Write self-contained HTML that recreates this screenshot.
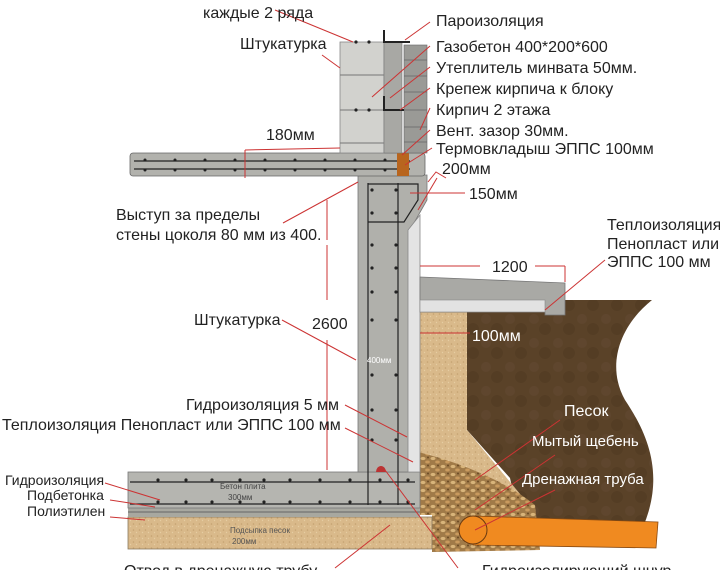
<!DOCTYPE html>
<html><head><meta charset="utf-8"><style>
html,body{margin:0;padding:0;background:#fff;}
svg{display:block;}
text{font-family:"Liberation Sans","Noto Sans CJK SC",sans-serif;}
.w{fill:#fff;}
.d{fill:#222;}
</style></head><body>
<svg width="720" height="570" viewBox="0 0 720 570" xmlns="http://www.w3.org/2000/svg">
<defs>
<pattern id="sand" width="6" height="6" patternUnits="userSpaceOnUse"><rect width="6" height="6" fill="#d9b98a"/><circle cx="1.5" cy="2" r="0.8" fill="#c4a170"/><circle cx="4.5" cy="4.5" r="0.7" fill="#e6cda2"/></pattern>
<pattern id="grav" width="10" height="8" patternUnits="userSpaceOnUse"><rect width="10" height="8" fill="#a07a48"/><ellipse cx="3" cy="2.5" rx="2.5" ry="1.6" fill="#d8b47a"/><ellipse cx="7.5" cy="6" rx="2.3" ry="1.5" fill="#c99a5e"/><circle cx="8" cy="1.5" r="1" fill="#6b4a25"/></pattern>
<pattern id="soil" width="24" height="24" patternUnits="userSpaceOnUse"><rect width="24" height="24" fill="#5a4228"/><circle cx="6" cy="7" r="5" fill="#614830" opacity="0.7"/><circle cx="17" cy="17" r="6" fill="#523b22" opacity="0.7"/></pattern>
</defs>

<path d="M467,312 L565,300 L652,300 C615,330 608,370 625,400 C645,430 665,470 645,522 L520,525 L510,478 L467,430 Z" fill="url(#soil)"/>
<path d="M420,305 L467,305 L467,430 L525,500 L420,455 Z" fill="url(#sand)"/>
<path d="M418,452 C470,465 510,485 535,505 L540,550 L432,552 L432,515 L418,515 Z" fill="url(#grav)"/>
<rect x="128" y="517" width="304" height="32" fill="url(#sand)" stroke="#8a7a60" stroke-width="0.8"/>
<text x="230" y="533" font-size="8" style="fill:#555">Подсыпка песок</text>
<text x="232" y="544" font-size="8" style="fill:#555">200мм</text>
<rect x="128" y="508" width="292" height="9" fill="#a8a8a0"/>
<line x1="128" y1="512" x2="420" y2="512" stroke="#666" stroke-width="1"/>
<rect x="128" y="472" width="292" height="36" fill="#b5b5b0" stroke="#777" stroke-width="0.8"/>
<line x1="130" y1="482" x2="415" y2="482" stroke="#222" stroke-width="1.3"/>
<line x1="130" y1="504" x2="415" y2="504" stroke="#222" stroke-width="1.3"/>
<g fill="#222"><circle cx="158" cy="480" r="1.6"/><circle cx="186" cy="480" r="1.6"/><circle cx="212" cy="480" r="1.6"/><circle cx="240" cy="480" r="1.6"/><circle cx="264" cy="480" r="1.6"/><circle cx="290" cy="480" r="1.6"/><circle cx="320" cy="480" r="1.6"/><circle cx="350" cy="480" r="1.6"/><circle cx="380" cy="480" r="1.6"/><circle cx="408" cy="480" r="1.6"/>
<circle cx="158" cy="502" r="1.6"/><circle cx="186" cy="502" r="1.6"/><circle cx="212" cy="502" r="1.6"/><circle cx="240" cy="502" r="1.6"/><circle cx="264" cy="502" r="1.6"/><circle cx="290" cy="502" r="1.6"/><circle cx="320" cy="502" r="1.6"/><circle cx="350" cy="502" r="1.6"/><circle cx="380" cy="502" r="1.6"/><circle cx="408" cy="502" r="1.6"/></g>
<text x="220" y="489" font-size="8" style="fill:#444">Бетон плита</text>
<text x="228" y="500" font-size="8" style="fill:#444">300мм</text>

<path d="M358,175 L427,175 L427,200 L410,230 L410,472 L358,472 Z" fill="#b0b0ab" stroke="#777" stroke-width="0.8"/>
<path d="M408,230 L420,215 L420,472 L408,472 Z" fill="#e4e4e4" stroke="#888" stroke-width="0.8"/>
<g stroke="#222" stroke-width="1.2" fill="none">
<line x1="368" y1="183" x2="368" y2="505"/><line x1="398" y1="183" x2="398" y2="505"/>
<path d="M368,184 L418,184 L418,200 L404,222 L368,222"/>
</g>
<g fill="#222"><circle cx="372" cy="190" r="1.6"/><circle cx="396" cy="190" r="1.6"/><circle cx="372" cy="213" r="1.6"/><circle cx="396" cy="213" r="1.6"/><circle cx="372" cy="245" r="1.6"/><circle cx="396" cy="245" r="1.6"/><circle cx="372" cy="268" r="1.6"/><circle cx="396" cy="268" r="1.6"/><circle cx="372" cy="292" r="1.6"/><circle cx="396" cy="292" r="1.6"/><circle cx="372" cy="320" r="1.6"/><circle cx="396" cy="320" r="1.6"/><circle cx="372" cy="375" r="1.6"/><circle cx="396" cy="375" r="1.6"/><circle cx="372" cy="410" r="1.6"/><circle cx="396" cy="410" r="1.6"/><circle cx="372" cy="440" r="1.6"/><circle cx="396" cy="440" r="1.6"/></g>
<text x="367" y="363" font-size="8" class="w">400мм</text>
<path d="M376,472 a5,6 0 0 1 10,0 Z" fill="#b33"/>

<path d="M420,277 L565,283 L565,315 L545,315 L545,312 L420,312 Z" fill="#a9a9a5" stroke="#777" stroke-width="0.8"/>
<rect x="420" y="300" width="125" height="12" fill="#e2e2e2" stroke="#888" stroke-width="0.6"/>

<path d="M473,516 L658,522 L656,548 L473,545 Z" fill="#f08a20" stroke="#8a4a10" stroke-width="0.8"/>
<circle cx="473" cy="530" r="14" fill="#f08a20" stroke="#6a3a10" stroke-width="1"/>

<rect x="130" y="153" width="295" height="23" rx="3" fill="#b2b2ad" stroke="#666" stroke-width="0.8"/>
<line x1="134" y1="161" x2="410" y2="161" stroke="#222" stroke-width="1.2"/>
<line x1="134" y1="169" x2="410" y2="169" stroke="#222" stroke-width="1.2"/>
<rect x="397" y="153" width="12" height="23" fill="#b8651e"/>
<g fill="#222"><circle cx="145" cy="160" r="1.5"/><circle cx="175" cy="160" r="1.5"/><circle cx="205" cy="160" r="1.5"/><circle cx="235" cy="160" r="1.5"/><circle cx="265" cy="160" r="1.5"/><circle cx="295" cy="160" r="1.5"/><circle cx="325" cy="160" r="1.5"/><circle cx="355" cy="160" r="1.5"/><circle cx="385" cy="160" r="1.5"/>
<circle cx="145" cy="170" r="1.5"/><circle cx="175" cy="170" r="1.5"/><circle cx="205" cy="170" r="1.5"/><circle cx="235" cy="170" r="1.5"/><circle cx="265" cy="170" r="1.5"/><circle cx="295" cy="170" r="1.5"/><circle cx="325" cy="170" r="1.5"/><circle cx="355" cy="170" r="1.5"/><circle cx="385" cy="170" r="1.5"/></g>

<rect x="340" y="42" width="44" height="111" fill="#d2d2ce" stroke="#888" stroke-width="0.8"/>
<g stroke="#777" stroke-width="1"><line x1="340" y1="75" x2="384" y2="75"/><line x1="340" y1="110" x2="384" y2="110"/><line x1="340" y1="143" x2="384" y2="143"/></g>
<rect x="384" y="42" width="18" height="111" fill="#a8a8a4" stroke="#777" stroke-width="0.6"/>
<rect x="404" y="45" width="23" height="108" fill="#9a9a96" stroke="#666" stroke-width="0.6"/>
<g stroke="#666" stroke-width="0.8"><line x1="404" y1="60" x2="427" y2="60"/><line x1="404" y1="76" x2="427" y2="76"/><line x1="404" y1="92" x2="427" y2="92"/><line x1="404" y1="110" x2="427" y2="110"/><line x1="404" y1="127" x2="427" y2="127"/><line x1="404" y1="142" x2="427" y2="142"/></g>
<path d="M384,30 L384,42 L410,42" stroke="#222" stroke-width="2" fill="none"/>
<path d="M384,96 L384,110 L404,110" stroke="#222" stroke-width="2" fill="none"/>
<g fill="#222"><circle cx="356" cy="42" r="1.6"/><circle cx="369" cy="42" r="1.6"/><circle cx="356" cy="110" r="1.6"/><circle cx="369" cy="110" r="1.6"/></g>

<g stroke="#c33" stroke-width="1" fill="none">
<line x1="327" y1="200" x2="327" y2="240"/><line x1="327" y1="245" x2="327" y2="300"/><line x1="327" y1="340" x2="327" y2="470"/>
<line x1="245" y1="150" x2="340" y2="148"/><line x1="245" y1="150" x2="245" y2="178"/>
<line x1="420" y1="266" x2="480" y2="266"/><line x1="535" y1="266" x2="565" y2="266"/><line x1="565" y1="266" x2="565" y2="282"/>
<line x1="420" y1="333" x2="470" y2="333"/>
<line x1="410" y1="193" x2="465" y2="193"/>
<path d="M428,182 L436,172 L446,178"/>
<line x1="437" y1="178" x2="418" y2="210"/>
<line x1="275" y1="10" x2="353" y2="42"/>
<line x1="322" y1="55" x2="340" y2="68"/>
<line x1="430" y1="22" x2="405" y2="40"/>
<line x1="430" y1="46" x2="372" y2="97"/>
<line x1="430" y1="67" x2="390" y2="98"/>
<line x1="430" y1="88" x2="400" y2="110"/>
<line x1="430" y1="108" x2="420" y2="130"/>
<line x1="430" y1="130" x2="402" y2="155"/>
<line x1="432" y1="148" x2="405" y2="165"/>
<line x1="283" y1="223" x2="358" y2="182"/>
<line x1="282" y1="320" x2="356" y2="360"/>
<line x1="345" y1="405" x2="407" y2="437"/>
<line x1="345" y1="428" x2="413" y2="462"/>
<line x1="605" y1="260" x2="545" y2="310"/>
<line x1="105" y1="483" x2="160" y2="500"/>
<line x1="110" y1="500" x2="155" y2="507"/>
<line x1="110" y1="517" x2="145" y2="520"/>
<line x1="560" y1="420" x2="475" y2="480"/>
<line x1="555" y1="455" x2="475" y2="510"/>
<line x1="555" y1="490" x2="475" y2="530"/>
<line x1="335" y1="568" x2="390" y2="525"/>
<line x1="458" y1="568" x2="385" y2="470"/>
</g>

<g font-size="16" class="d">
<text x="203" y="18" class="d">каждые 2 ряда</text>
<text x="240" y="49" class="d">Штукатурка</text>
<text x="436" y="26" class="d">Пароизоляция</text>
<text x="436" y="52" class="d">Газобетон 400*200*600</text>
<text x="436" y="73" class="d">Утеплитель минвата 50мм.</text>
<text x="436" y="94" class="d">Крепеж кирпича к блоку</text>
<text x="436" y="115" class="d">Кирпич 2 этажа</text>
<text x="436" y="136" class="d">Вент. зазор 30мм.</text>
<text x="436" y="154" class="d">Термовкладыш ЭППС 100мм</text>
<text x="266" y="140" class="d">180мм</text>
<text x="442" y="174" class="d">200мм</text>
<text x="469" y="199" class="d">150мм</text>
<text x="116" y="220" class="d">Выступ за пределы</text>
<text x="116" y="240" class="d">стены цоколя 80 мм из 400.</text>
<text x="607" y="230" class="d">Теплоизоляция</text>
<text x="607" y="249" class="d">Пенопласт или</text>
<text x="607" y="267" class="d">ЭППС 100 мм</text>
<text x="492" y="272" class="d">1200</text>
<text x="194" y="325" class="d">Штукатурка</text>
<text x="312" y="329" class="d">2600</text>
<text x="472" y="341" class="w">100мм</text>
<text x="186" y="410" class="d">Гидроизоляция 5 мм</text>
<text x="2" y="430" class="d">Теплоизоляция Пенопласт или ЭППС 100 мм</text>
<text x="564" y="416" class="w">Песок</text>
<text x="532" y="446" class="w" font-size="15">Мытый щебень</text>
<text x="522" y="484" class="w" font-size="15">Дренажная труба</text>
<text x="5" y="485" font-size="14" class="d">Гидроизоляция</text>
<text x="27" y="500" font-size="14" class="d">Подбетонка</text>
<text x="27" y="516" font-size="14" class="d">Полиэтилен</text>
<text x="124" y="576" class="d">Отвод в дренажную трубу</text>
<text x="482" y="576" class="d">Гидроизолирующий шнур</text>
</g>
</svg>
</body></html>
